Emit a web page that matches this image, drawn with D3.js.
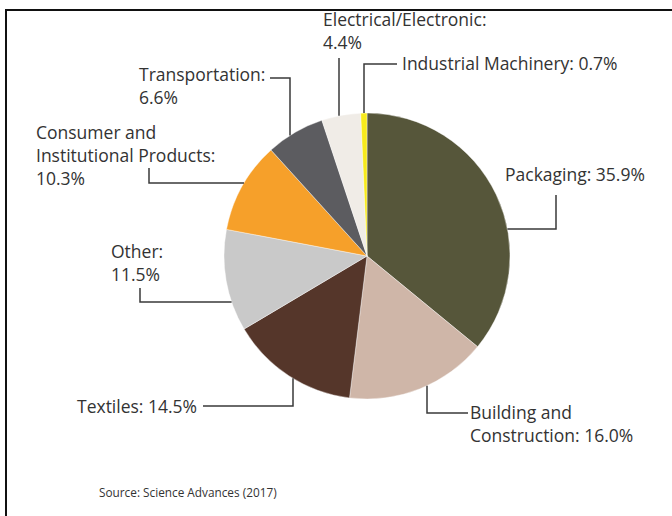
<!DOCTYPE html>
<html>
<head>
<meta charset="utf-8">
<script src="https://cdn.jsdelivr.net/npm/d3@7"></script>
<style>
  html, body { margin: 0; padding: 0; background: #fff; }
  svg { display: block; }
  text { font-family: "Open Sans", Lato, sans-serif; fill: #333; }
</style>
</head>
<body>
<svg id="chart" width="672" height="516"></svg>
<script>
// Plastic production by industrial sector (share of total, %)
const sectors = [
  "Packaging", "Building and Construction", "Textiles", "Other",
  "Consumer and Institutional Products", "Transportation",
  "Electrical/Electronic", "Industrial Machinery"
];
const shares = [35.9, 16.0, 14.5, 11.5, 10.3, 6.6, 4.4, 0.7];
const sliceColors = [
  "#56563a", "#cfb6a8", "#55362a", "#c9c9c9",
  "#f6a02a", "#5c5c60", "#f0ece7", "#f7ea1c"
];
const source = "Source: Science Advances (2017)";

// Label text lines, placement and leader routing for each sector.
// leader: list of points from the text side; "to" says how the last segment
// reaches the rim ("v" = vertical drop/rise at the last x, "h" = horizontal at the last y).
const labelLayout = [
  { lines: ["Packaging: 35.9%"], x: 505, y: 181, leader: [[556, 195], [556, 229]], to: "h" },
  { lines: ["Building and", "Construction: 16.0%"], x: 470, y: 419, leader: [[468, 413], [427, 413]], to: "v" },
  { lines: ["Textiles: 14.5%"], x: 77, y: 413, leader: [[203, 406], [293, 406]], to: "v" },
  { lines: ["Other:", "11.5%"], x: 111, y: 258, leader: [[140, 288], [140, 302]], to: "h" },
  { lines: ["Consumer and", "Institutional Products:", "10.3%"], x: 36, y: 139, leader: [[149, 168], [149, 183]], to: "h" },
  { lines: ["Transportation:", "6.6%"], x: 139, y: 81, leader: [[270, 78], [290, 78]], to: "v" },
  { lines: ["Electrical/Electronic:", "4.4%"], x: 323, y: 26, leader: [[339, 58]], to: "v" },
  { lines: ["Industrial Machinery: 0.7%"], x: 402, y: 70, leader: [[397, 64], [364, 64]], to: "v" }
];

const svg = d3.select("#chart");
const cx = 367, cy = 256, radius = 143;
const lineHeight = 23;

// Frame (top and left edges)
svg.append("path")
  .attr("d", "M6,530V10H690")
  .attr("fill", "none")
  .attr("stroke", "#111")
  .attr("stroke-width", 2);

const data = sectors.map((s, i) => ({ sector: s, value: shares[i], color: sliceColors[i], layout: labelLayout[i] }));

const pie = d3.pie().value(d => d.value).sort(null);
const arc = d3.arc().innerRadius(0).outerRadius(radius);

const g = svg.append("g").attr("transform", `translate(${cx},${cy})`);
const arcs = pie(data);

g.selectAll("path.slice")
  .data(arcs)
  .join("path")
  .attr("class", "slice")
  .attr("d", arc)
  .attr("fill", d => d.data.color)
  .attr("stroke", "#fff")
  .attr("stroke-width", 0.4);

// Leader lines: route from the label to the point where they meet the rim
function rimPoint(last, to, a) {
  const mid = (a.startAngle + a.endAngle) / 2;
  if (to === "v") {
    const dx = last[0] - cx;
    const dy = Math.sqrt(radius * radius - dx * dx);
    const down = Math.cos(mid) < 0; // lower half of the pie
    return [last[0], down ? cy + dy : cy - dy];
  } else {
    const dy = last[1] - cy;
    const dx = Math.sqrt(radius * radius - dy * dy);
    const right = Math.sin(mid) > 0;
    return [right ? cx + dx : cx - dx, last[1]];
  }
}

const line = d3.line();
svg.append("g").selectAll("path")
  .data(arcs)
  .join("path")
  .attr("d", a => {
    const L = a.data.layout;
    const pts = L.leader.slice();
    pts.push(rimPoint(pts[pts.length - 1], L.to, a));
    return line(pts);
  })
  .attr("fill", "none")
  .attr("stroke", "#3a3a3a")
  .attr("stroke-width", 1.5);

// Labels
const labels = svg.append("g").selectAll("text")
  .data(data)
  .join("text")
  .attr("x", d => d.layout.x)
  .attr("y", d => d.layout.y)
  .attr("font-size", 17.5);

labels.selectAll("tspan")
  .data(d => d.layout.lines.map((t, i) => ({ t, i, x: d.layout.x })))
  .join("tspan")
  .attr("x", d => d.x)
  .attr("dy", d => d.i === 0 ? 0 : lineHeight)
  .text(d => d.t);

svg.append("text")
  .attr("x", 99)
  .attr("y", 497)
  .attr("font-size", 11.8)
  .text(source);
</script>
</body>
</html>
